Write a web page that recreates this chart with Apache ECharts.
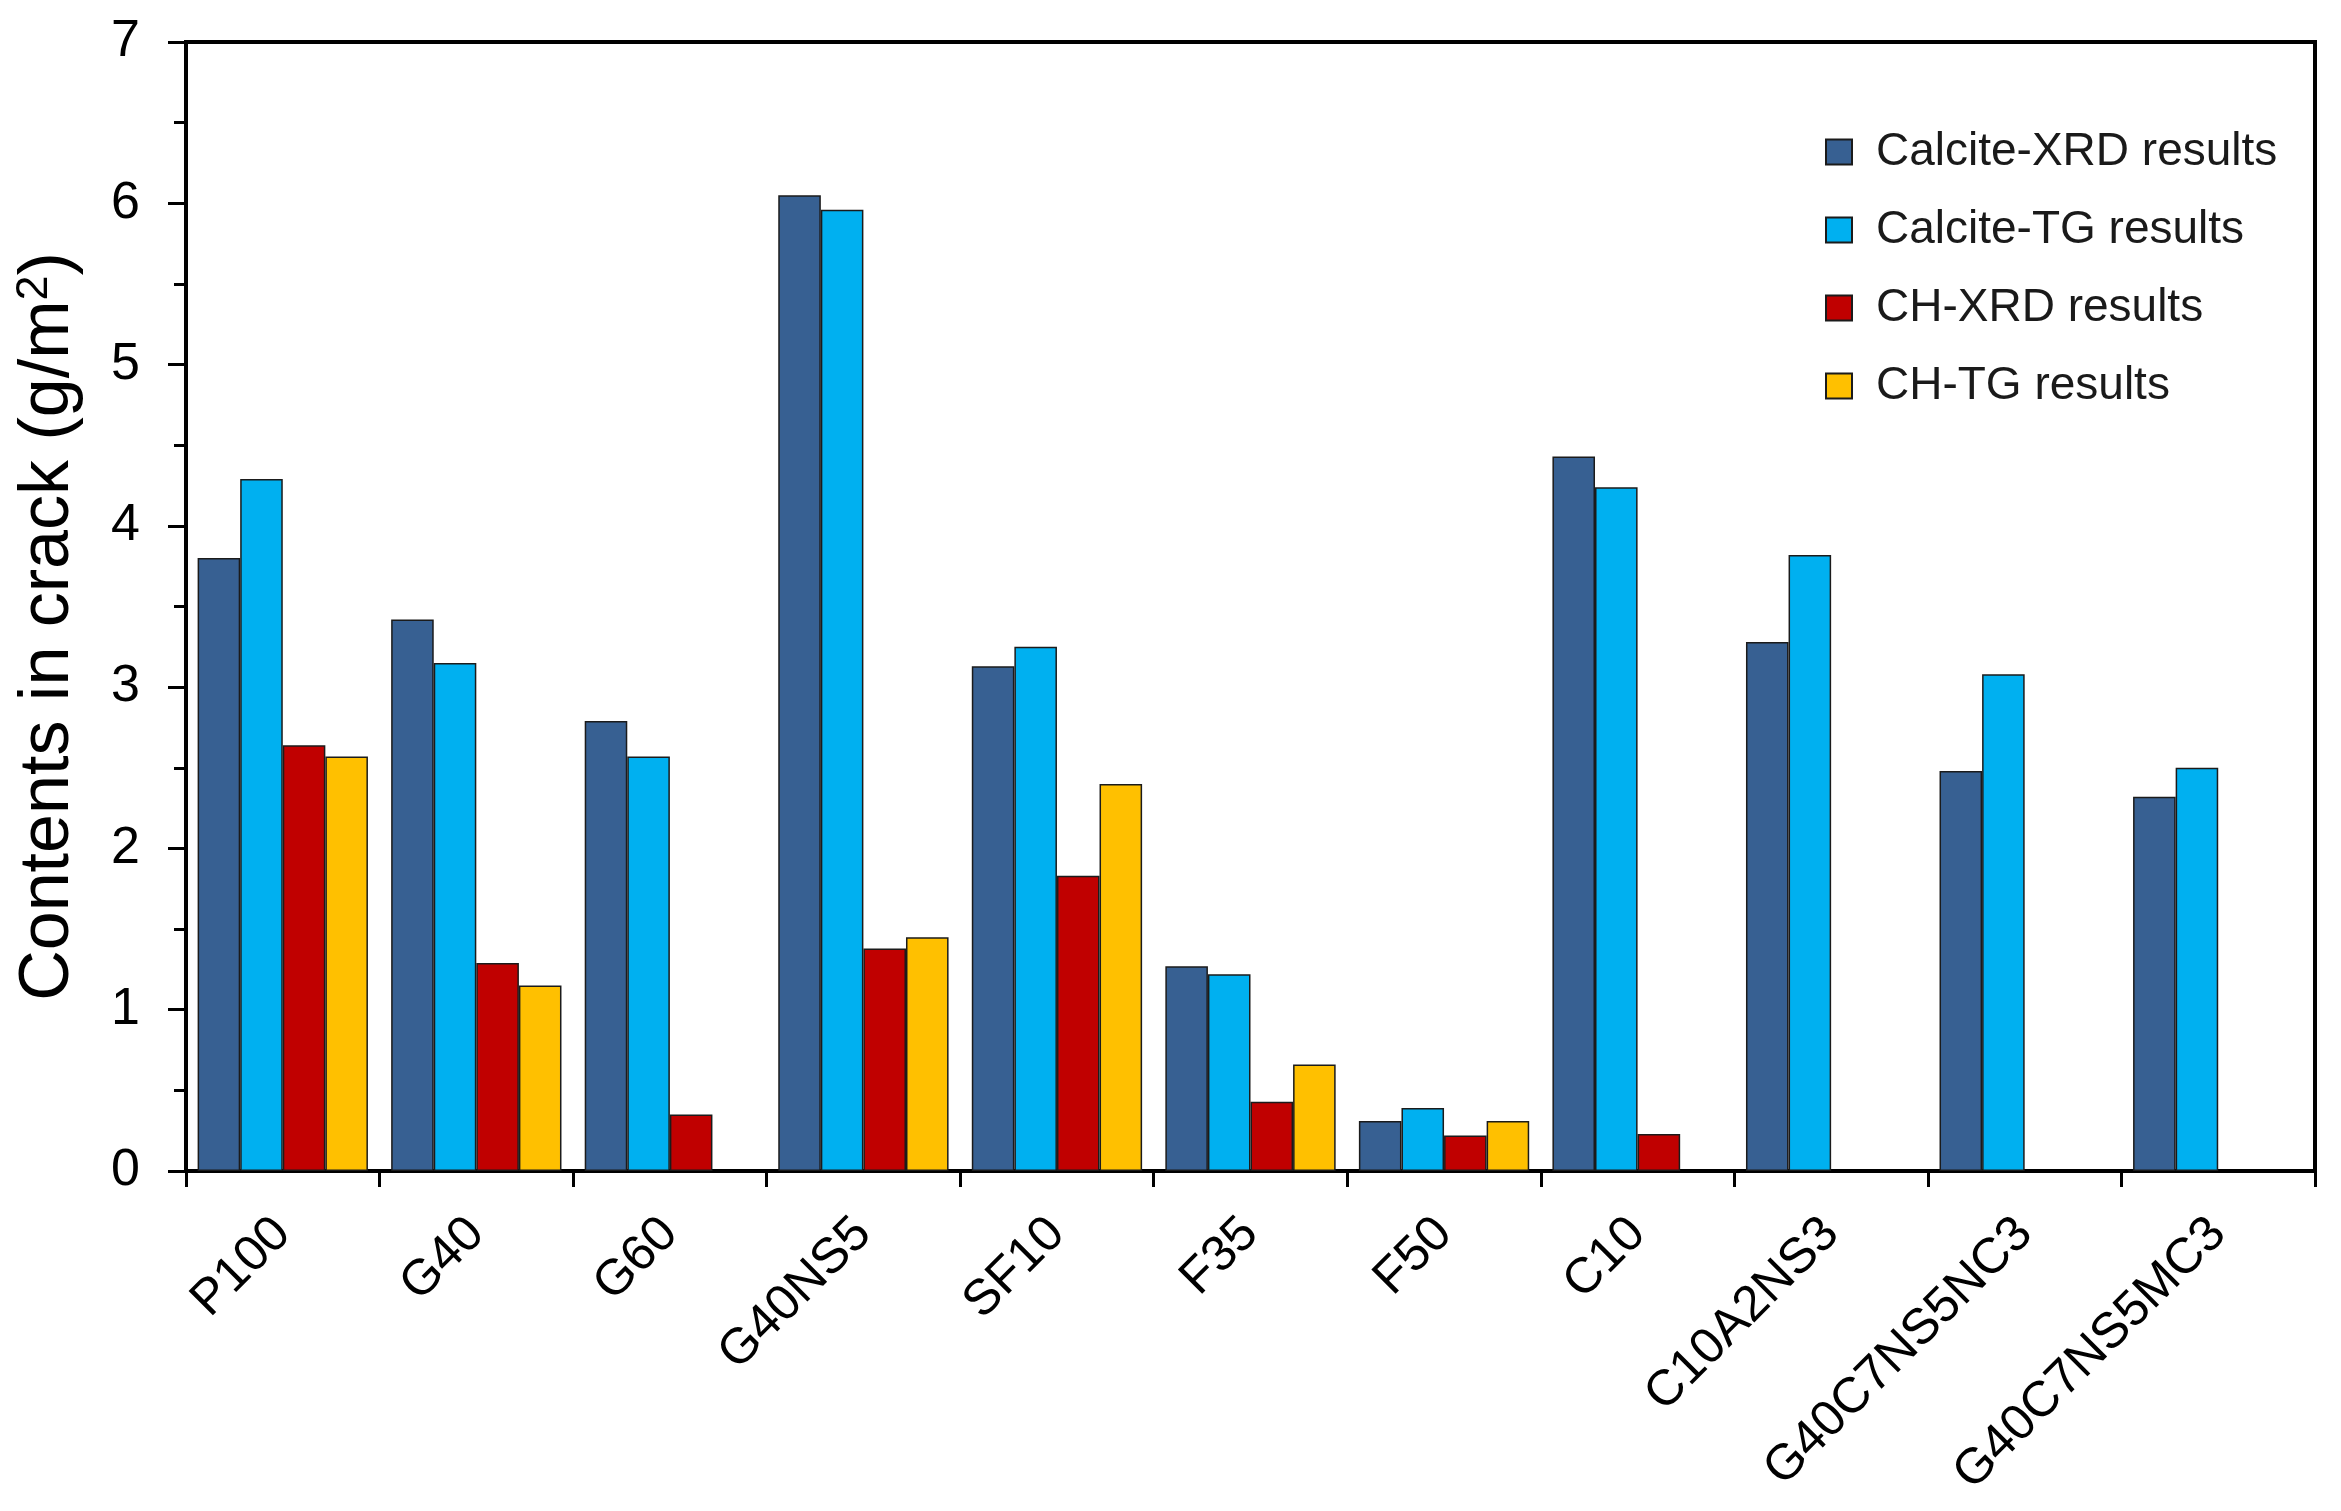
<!DOCTYPE html>
<html>
<head>
<meta charset="utf-8">
<script src="https://cdn.jsdelivr.net/npm/echarts@6/dist/echarts.min.js"></script>
<style>
  html, body { margin: 0; padding: 0; background: #ffffff; }
  #chart { width: 2341px; height: 1511px; }
</style>
</head>
<body>
<div id="chart"></div>
<script>
// ---- Data ----
const categories = ['P100', 'G40', 'G60', 'G40NS5', 'SF10', 'F35', 'F50', 'C10', 'C10A2NS3', 'G40C7NS5NC3', 'G40C7NS5MC3'];
const seriesNames = ['Calcite-XRD results', 'Calcite-TG results', 'CH-XRD results', 'CH-TG results'];
const calciteXRD = [3.80, 3.42, 2.79, 6.05, 3.13, 1.27, 0.31, 4.43, 3.28, 2.48, 2.32];
const calciteTG  = [4.29, 3.15, 2.57, 5.96, 3.25, 1.22, 0.39, 4.24, 3.82, 3.08, 2.50];
const chXRD      = [2.64, 1.29, 0.35, 1.38, 1.83, 0.43, 0.22, 0.23, null, null, null];
const chTG       = [2.57, 1.15, null, 1.45, 2.40, 0.66, 0.31, null, null, null, null];
const yTicks = [0, 1, 2, 3, 4, 5, 6, 7];

// ---- Styles ----
const FONT = '"Liberation Sans", Arial, Helvetica, sans-serif';
const colors = ['#376092', '#00B0F0', '#C00000', '#FFC000'];
const dataSets = [calciteXRD, calciteTG, chXRD, chTG];

const chart = echarts.init(document.getElementById('chart'), null, { renderer: 'canvas' });

const option = {
  backgroundColor: '#ffffff',
  animation: false,
  grid: {
    left: 186, right: 26, top: 42, bottom: 340,
    show: true, borderColor: '#000', borderWidth: 4, backgroundColor: 'transparent'
  },
  legend: {
    orient: 'vertical',
    left: 1820, top: 124,
    itemWidth: 26, itemHeight: 25,
    itemGap: 32,
    icon: 'rect',
    textStyle: { fontFamily: FONT, fontSize: 46, color: '#1a1a1a', lineHeight: 46, padding: [0, 0, 0, 19] },
    data: seriesNames
  },
  xAxis: {
    type: 'category',
    data: categories,
    boundaryGap: true,
    axisLine: { show: true, lineStyle: { color: '#000', width: 4 } },
    axisTick: { show: true, inside: false, length: 16, lineStyle: { color: '#000', width: 3 } },
    axisLabel: {
      interval: 0, rotate: 45, margin: 55,
      fontFamily: FONT, fontSize: 50, color: '#000'
    },
    splitLine: { show: false }
  },
  yAxis: {
    type: 'value',
    min: yTicks[0], max: yTicks[yTicks.length - 1], interval: 1,
    name: '{a|Contents in crack (g/m}{s|2}{a|)}',
    nameLocation: 'middle',
    nameGap: 100,
    nameTextStyle: {
      color: '#000',
      padding: [0, 40, 0, 0],
      rich: {
        a: { fontFamily: FONT, fontSize: 70, color: '#000', lineHeight: 74 },
        s: { fontFamily: FONT, fontSize: 45, color: '#000', verticalAlign: 'top', lineHeight: 74 }
      }
    },
    axisLine: { show: true, lineStyle: { color: '#000', width: 4 } },
    axisTick: { show: true, inside: false, length: 18, lineStyle: { color: '#000', width: 3 } },
    minorTick: { show: true, splitNumber: 2, length: 12, lineStyle: { color: '#000', width: 3 } },
    axisLabel: { margin: 46, fontFamily: FONT, fontSize: 52, color: '#000' },
    splitLine: { show: false }
  },
  series: seriesNames.map((name, i) => ({
    name: name,
    type: 'bar',
    data: dataSets[i],
    barGap: '0%',
    barCategoryGap: '12%',
    itemStyle: { color: colors[i], borderColor: '#1b1b1b', borderWidth: 1.5 }
  }))
};

chart.setOption(option);
</script>
</body>
</html>
